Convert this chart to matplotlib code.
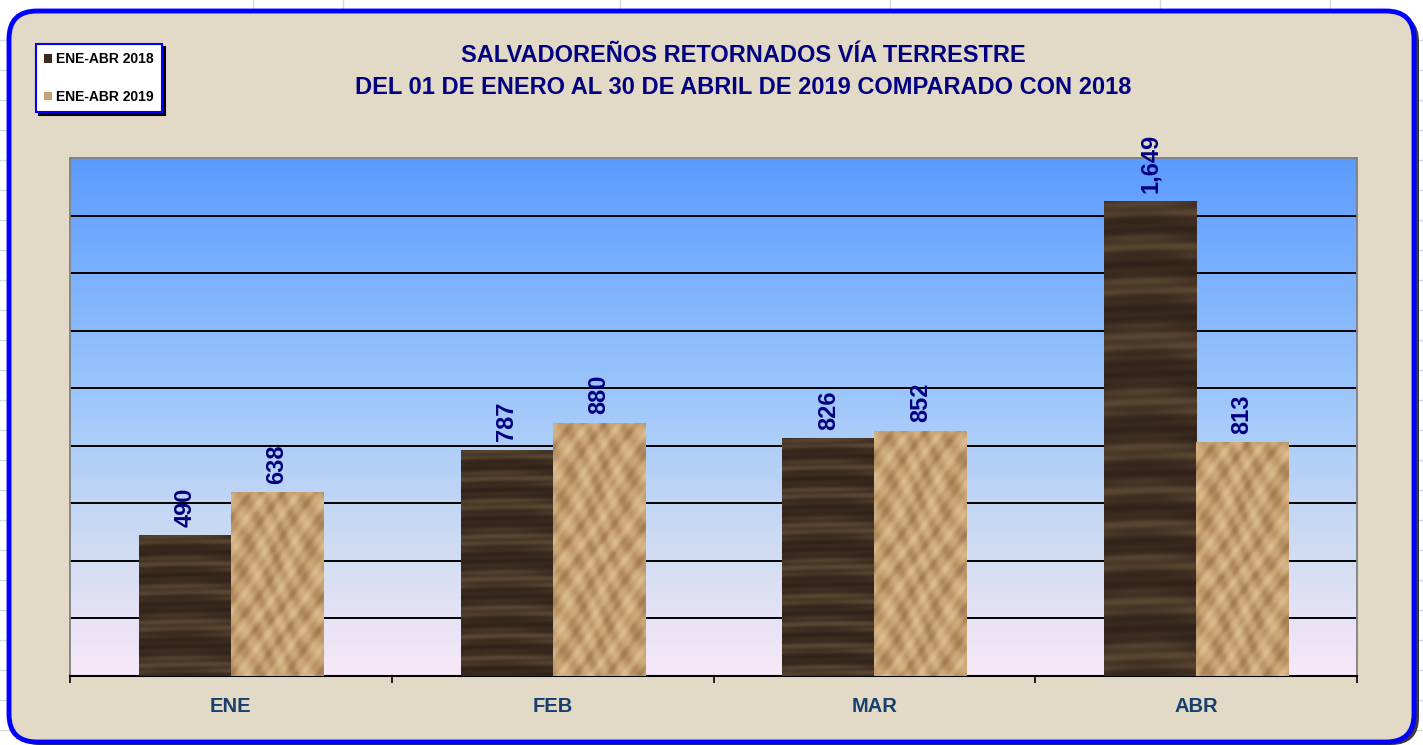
import numpy as np
import matplotlib
matplotlib.use("Agg")
import matplotlib.pyplot as plt
from matplotlib.patches import FancyBboxPatch
from matplotlib.colors import LinearSegmentedColormap
from matplotlib.ticker import FixedLocator, NullFormatter

plt.rcParams['font.family'] = ['Liberation Sans', 'DejaVu Sans']

categories = ["ENE", "FEB", "MAR", "ABR"]
series_names = ["ENE-ABR 2018", "ENE-ABR 2019"]
values_2018 = [490, 787, 826, 1649]
values_2019 = [638, 880, 852, 813]
title_lines = ["SALVADOREÑOS RETORNADOS VÍA TERRESTRE",
               "DEL 01 DE ENERO AL 30 DE ABRIL DE 2019 COMPARADO CON 2018"]

W, H = 1423, 745
fig = plt.figure(figsize=(W / 100, H / 100), dpi=100)
fig.patch.set_facecolor("white")

# background axes in pixel units (top-down y)
bg = fig.add_axes([0, 0, 1, 1], zorder=-5)
bg.set_xlim(0, W)
bg.set_ylim(H, 0)
bg.axis("off")
for xv in [253, 343, 620, 890, 1160, 1330]:
    bg.plot([xv, xv], [0, 12], color="#d9d9d9", lw=1, zorder=0)
for yv in range(40, 745, 30):
    bg.plot([0, 10], [yv, yv], color="#d9d9d9", lw=1, zorder=0)
    bg.plot([1414, W], [yv, yv], color="#d9d9d9", lw=1, zorder=0)
bg.add_patch(FancyBboxPatch((12, 14), 1407, 731,
                            boxstyle="round,pad=0,rounding_size=28",
                            facecolor="#3a3a3a", edgecolor="none", zorder=1))
bg.add_patch(FancyBboxPatch((9, 11), 1405, 731,
                            boxstyle="round,pad=0,rounding_size=28",
                            facecolor="#e2d9c7", edgecolor="#0000ff",
                            linewidth=3.5, zorder=2))

ax = fig.add_axes([70 / W, 1 - 676 / H, 1287 / W, 518 / H], zorder=1)
ax.set_facecolor("none")

# gradient plot area
cmap = LinearSegmentedColormap.from_list(
    "bg", [(0.0, "#f8e8f8"), (0.25, "#cfdcf2"), (0.55, "#9cc6fb"), (1.0, "#5b9bff")])
grad = np.linspace(0, 1, 256).reshape(-1, 1)
ax.imshow(grad, aspect="auto", cmap=cmap, extent=[0, 1, 0, 1],
          transform=ax.transAxes, origin="lower", zorder=0)

x = np.arange(len(categories))
bw = 0.286
b1 = ax.bar(x - bw / 2, values_2018, bw, color="#3d2c1f", zorder=3, label=series_names[0])
b2 = ax.bar(x + bw / 2, values_2019, bw, color="#c8a275", zorder=3, label=series_names[1])

# subtle texture overlays clipped to bars (purely decorative)
yy, xx = np.mgrid[0:300, 0:90]
wood = 0.5 + 0.35 * np.sin(yy * 0.22 + 0.6 * np.sin(xx * 0.04) + 2.0 * np.sin(yy * 0.031)) \
       + 0.15 * np.sin(yy * 0.9 + xx * 0.02)
wood_cmap = LinearSegmentedColormap.from_list("wood", ["#30221a", "#3e2e21", "#5b4733"])
paper = 0.5 + 0.2 * np.sin(xx * 0.21 + yy * 0.13 + 1.8 * np.sin(yy * 0.05)) + \
        0.2 * np.sin(yy * 0.17 - xx * 0.29 + 1.4 * np.sin(xx * 0.07)) + \
        0.1 * np.sin(xx * 0.6 + yy * 0.45)
paper_cmap = LinearSegmentedColormap.from_list("paper", ["#a07a52", "#c6a070", "#dcbf94"])
for bars, tex, cm in [(b1, wood, wood_cmap), (b2, paper, paper_cmap)]:
    for r in bars:
        h = r.get_height()
        n = max(20, int(300 * h / 1800 * 1.7))
        im = ax.imshow(tex[:n], aspect="auto", cmap=cm,
                       extent=[r.get_x(), r.get_x() + r.get_width(), 0, h],
                       zorder=3.5, interpolation="bilinear")
        im.set_clip_path(r)

ax.set_xlim(-0.5, 3.5)
ax.set_ylim(0, 1800)
for yv in range(200, 1800, 200):
    ax.axhline(yv, color="black", lw=1.4, zorder=1)

for bars, vals in [(b1, values_2018), (b2, values_2019)]:
    for r, v in zip(bars, vals):
        ax.annotate(f"{v:,}", (r.get_x() + r.get_width() / 2, r.get_height()),
                    xytext=(0, 6), textcoords="offset points", rotation=90,
                    ha="center", va="bottom", fontsize=17, fontweight="bold",
                    color="#000080", zorder=5)

ax.xaxis.set_major_locator(FixedLocator([-0.5, 0.5, 1.5, 2.5, 3.5]))
ax.xaxis.set_major_formatter(NullFormatter())
ax.xaxis.set_minor_locator(FixedLocator(list(x)))
ax.set_xticklabels(categories, minor=True, fontweight="bold", fontsize=14.5,
                   color="#17406e")
ax.tick_params(axis="x", which="major", direction="out", length=5, width=1.2, color="black")
ax.tick_params(axis="x", which="minor", length=0, pad=15)
ax.set_yticks([])
for s in ["top", "left", "right"]:
    ax.spines[s].set_color("#808080")
    ax.spines[s].set_linewidth(1.3)
ax.spines["bottom"].set_color("black")
ax.spines["bottom"].set_linewidth(1.5)

fig.text(743 / W, 1 - 55 / H, title_lines[0], ha="center", va="center",
         fontsize=17, fontweight="bold", color="#000080")
fig.text(743 / W, 1 - 87 / H, title_lines[1], ha="center", va="center",
         fontsize=17, fontweight="bold", color="#000080")

leg = fig.legend(handles=[b1, b2], labels=series_names, loc="upper left",
                 bbox_to_anchor=(36 / W, 1 - 44 / H), frameon=True, fancybox=False,
                 shadow={"color": "black", "alpha": 1}, edgecolor="#0000ff",
                 facecolor="white", framealpha=1, prop={"weight": "bold", "size": 10},
                 handlelength=0.55, handleheight=0.55, handletextpad=0.3,
                 labelspacing=1.7, borderpad=0.6, borderaxespad=0)
leg.get_frame().set_linewidth(1.5)

fig.savefig("out.png", dpi=100)
